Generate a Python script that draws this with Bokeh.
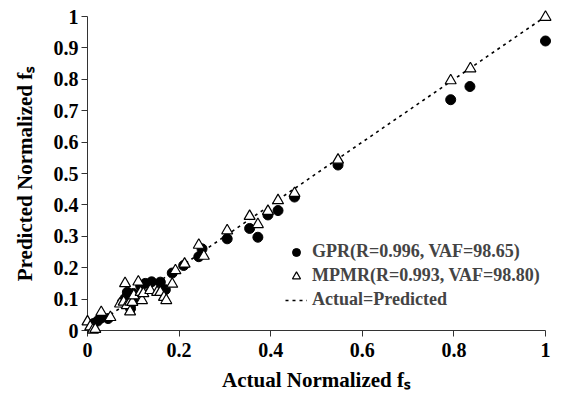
from bokeh.plotting import figure
from bokeh.models import FixedTicker, Legend, LegendItem
from bokeh.embed import file_html
from bokeh.resources import INLINE

# GPR predictions (filled circles)
gpr_actual = [0.013, 0.022, 0.030, 0.045, 0.076, 0.082, 0.090, 0.094, 0.100, 0.100,
              0.087, 0.116, 0.126, 0.140, 0.159, 0.170, 0.185, 0.210, 0.243, 0.250,
              0.305, 0.354, 0.372, 0.394, 0.416, 0.452, 0.547, 0.793, 0.835, 1.000]
gpr_pred = [0.022, 0.030, 0.040, 0.038, 0.090, 0.102, 0.112, 0.070, 0.118, 0.092,
            0.122, 0.143, 0.150, 0.155, 0.154, 0.130, 0.183, 0.207, 0.235, 0.260,
            0.292, 0.325, 0.297, 0.368, 0.382, 0.425, 0.527, 0.735, 0.777, 0.922]

# MPMR predictions (open triangles)
mpmr_actual = [0.000, 0.006, 0.012, 0.017, 0.030, 0.050, 0.071, 0.079, 0.082, 0.086,
               0.093, 0.093, 0.098, 0.101, 0.111, 0.116, 0.119, 0.122, 0.137, 0.152,
               0.159, 0.167, 0.172, 0.185, 0.192, 0.212, 0.243, 0.254, 0.305, 0.354,
               0.372, 0.394, 0.416, 0.452, 0.547, 0.793, 0.836, 1.000]
mpmr_pred = [0.028, 0.012, 0.002, 0.004, 0.058, 0.042, 0.085, 0.091, 0.150, 0.080,
             0.091, 0.060, 0.090, 0.111, 0.155, 0.122, 0.096, 0.118, 0.128, 0.122,
             0.122, 0.106, 0.096, 0.148, 0.191, 0.212, 0.272, 0.237, 0.318, 0.364,
             0.338, 0.380, 0.414, 0.437, 0.543, 0.796, 0.834, 0.998]

line_x = [0.0, 1.0]
line_y = [0.0, 1.0]

x_ticks = [0, 0.2, 0.4, 0.6, 0.8, 1]
x_labels = ["0", "0.2", "0.4", "0.6", "0.8", "1"]
y_ticks = [0, 0.1, 0.2, 0.3, 0.4, 0.5, 0.6, 0.7, 0.8, 0.9, 1]
y_labels = ["0", "0.1", "0.2", "0.3", "0.4", "0.5", "0.6", "0.7", "0.8", "0.9", "1"]

FONT = "Liberation Serif"

p = figure(width=582, height=402, output_backend="svg", toolbar_location=None,
           x_range=(0, 1), y_range=(0, 1),
           min_border_left=87, min_border_right=37, min_border_top=16, min_border_bottom=72)
p.frame_width = 458
p.frame_height = 314
p.outline_line_color = None
p.xgrid.visible = False
p.ygrid.visible = False

r_line = p.line(line_x, line_y, line_color="black", line_width=1.6, line_dash="3 4")
r_gpr = p.scatter(gpr_actual, gpr_pred, marker="circle", size=10,
                  fill_color="black", line_color="black", level="overlay")
r_mpmr = p.scatter(mpmr_actual, mpmr_pred, marker="triangle", size=11,
                   fill_color="white", line_color="black", line_width=1.2, level="overlay")

for ax, ticks, labels in ((p.xaxis[0], x_ticks, x_labels), (p.yaxis[0], y_ticks, y_labels)):
    ax.ticker = FixedTicker(ticks=ticks)
    ax.major_label_overrides = {t: l for t, l in zip(ticks, labels)}
    ax.minor_tick_line_color = None
    ax.axis_line_color = "#333333"
    ax.major_tick_line_color = "#333333"
    ax.major_tick_in = 0
    ax.major_tick_out = 6
    ax.major_label_text_font = FONT
    ax.major_label_text_font_style = "bold"
    ax.major_label_text_font_size = "20px"
    ax.major_label_text_color = "black"
    ax.axis_label_text_font = FONT
    ax.axis_label_text_font_style = "bold"
    ax.axis_label_text_font_size = "21px"
    ax.axis_label_text_color = "black"

p.xaxis[0].axis_label = "Actual Normalized fₛ"
p.yaxis[0].axis_label = "Predicted Normalized fₛ"
p.xaxis[0].major_label_standoff = 6
p.xaxis[0].axis_label_standoff = 8
p.yaxis[0].major_label_standoff = 3
p.yaxis[0].axis_label_standoff = 14

legend = Legend(items=[
    LegendItem(label="GPR(R=0.996, VAF=98.65)", renderers=[r_gpr]),
    LegendItem(label="MPMR(R=0.993, VAF=98.80)", renderers=[r_mpmr]),
    LegendItem(label="Actual=Predicted", renderers=[r_line]),
], location=(198, 20))
legend.border_line_color = None
legend.background_fill_alpha = 0
legend.padding = 0
legend.margin = 0
legend.spacing = 3
legend.glyph_width = 22
legend.glyph_height = 20
legend.label_height = 20
legend.label_standoff = 5
legend.label_text_font = FONT
legend.label_text_font_style = "bold"
legend.label_text_font_size = "18px"
p.add_layout(legend, "center")

open("out.html", "w").write(file_html(p, INLINE))
